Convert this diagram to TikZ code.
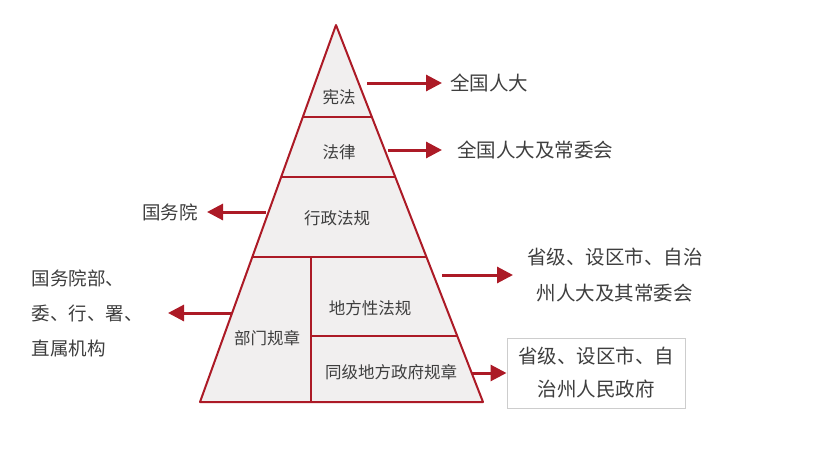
\documentclass[tikz,border=0pt]{standalone}
\usepackage{fontspec}
\setmainfont{Noto Sans CJK SC}
\usetikzlibrary{arrows.meta}

\definecolor{lawred}{RGB}{172,26,38}
\definecolor{layergray}{RGB}{241,239,239}
\definecolor{textgray}{RGB}{62,62,62}
\definecolor{boxgray}{RGB}{205,205,205}

\begin{document}
\begin{tikzpicture}[x=1pt,y=-1pt,
    layer/.style={fill=layergray,draw=lawred,line width=2pt,line join=round},
    split/.style={draw=lawred,line width=2.4pt},
    level/.style={text=textgray,inner sep=0pt,font=\fontsize{16.5}{20}\selectfont},
    rightorgan/.style={text=textgray,font=\fontsize{19.5}{36}\selectfont},
    leftorgan/.style={text=textgray,font=\fontsize{18.5}{35}\selectfont},
    link/.style={draw=lawred,line width=3pt,-{Triangle[length=16pt,width=16pt]}}
]

    \useasboundingbox (0,0) rectangle (840,452);

    % pyramid
    \coordinate (apex) at (336,25);
    \coordinate (base left) at (200,402);
    \coordinate (base right) at (483,402);

    \draw[layer] (apex) -- (base right) -- (base left) -- cycle;

    \draw[split] (302.8,117) -- (371.9,117);
    \draw[split] (281.2,177) -- (395.3,177);
    \draw[split] (252.3,257) -- (426.5,257);
    \draw[split] (311,257) -- (311,402);
    \draw[split] (311,336) -- (457.3,336);

    \node[level] (constitution) at (339,97) {宪法};
    \node[level] (law) at (339,152) {法律};
    \node[level] (regulation) at (337,218) {行政法规};
    \node[level] (rules) at (267,338) {部门规章};
    \node[level] (local law) at (370,308) {地方性法规};
    \node[level] (local rules) at (391,372) {同级地方政府规章};

    % makers of each level
    \node[rightorgan,anchor=west,inner xsep=8pt] (npc) at (442,83) {全国人大};

    \node[rightorgan,anchor=west,inner xsep=15pt] (npc sc) at (442,150) {全国人大及常委会};

    \node[leftorgan,anchor=east,inner xsep=9pt] (council) at (207,212) {国务院};

    \node[leftorgan,anchor=east,inner xsep=19pt] (ministries) at (168,313) {
        \begin{tabular}{l}
            国务院部、\\
            委、行、署、\\
            直属机构\\
        \end{tabular}
    };

    \node[rightorgan,anchor=west,inner xsep=8pt] (local congress) at (513,275) {
        \begin{tabular}{c}
            省级、设区市、自治\\
            州人大及其常委会\\
        \end{tabular}
    };

    \node[rightorgan,draw=boxgray,line width=1pt,fill=white,inner sep=2pt,
        minimum width=178pt,minimum height=70pt,
        font=\fontsize{19.5}{33}\selectfont] (local govt) at (596,373) {
        \begin{tabular}{c}
            省级、设区市、自\\
            治州人民政府\\
        \end{tabular}
    };

    % arrows
    \coordinate (from constitution) at (367,83);
    \coordinate (from law) at (388,150);
    \coordinate (from regulation) at (266,212);
    \coordinate (from rules) at (232,313);
    \coordinate (from local law) at (442,275);
    \coordinate (from local rules) at (472,373);

    \draw[link] (from constitution) to (npc);
    \draw[link] (from law) to (npc sc);
    \draw[link] (from regulation) to (council);
    \draw[link] (from rules) to (ministries);
    \draw[link] (from local law) to (local congress);
    \draw[link] (from local rules) to (local govt);

\end{tikzpicture}
\end{document}
